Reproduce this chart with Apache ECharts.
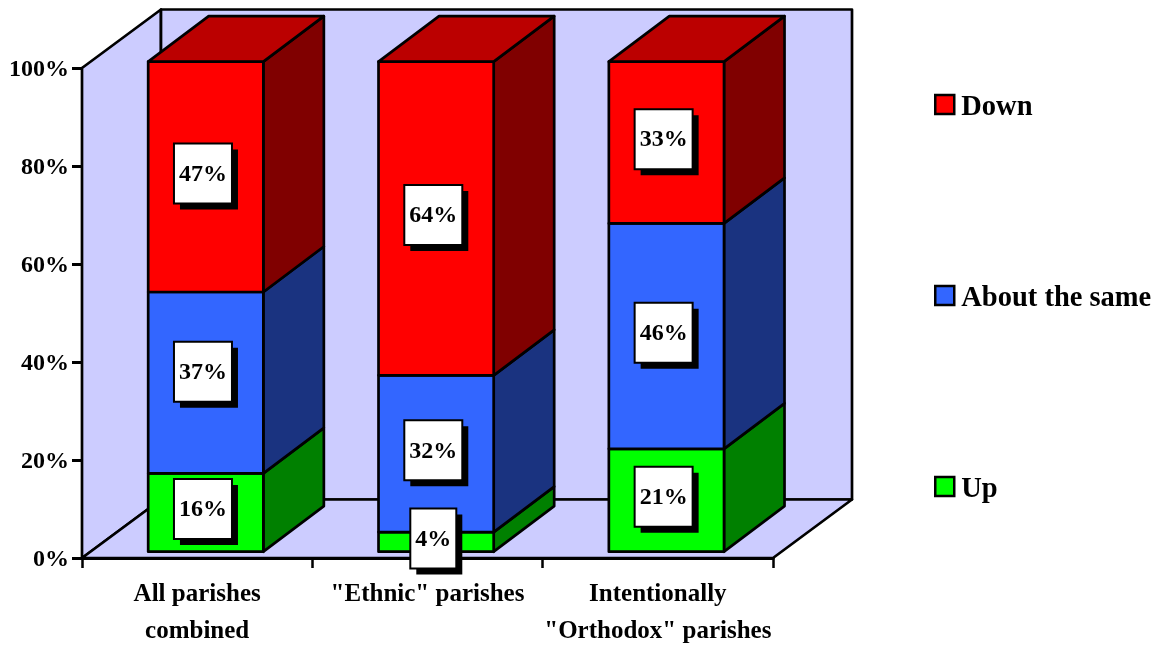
<!DOCTYPE html>
<html><head><meta charset="utf-8">
<style>html,body{margin:0;padding:0;background:#fff}#c{width:1153px;height:646px}</style>
<script src="https://cdn.jsdelivr.net/npm/echarts@6/dist/echarts.min.js"></script>
</head><body><div id="c"></div>
<script>
const categories = ['All parishes\ncombined', '"Ethnic" parishes', 'Intentionally\n"Orthodox" parishes'];
const up = [16, 4, 21];
const same = [37, 32, 46];
const down = [47, 64, 33];
const yTicks = {min: 0, max: 100, interval: 20};

const FONT = '"Liberation Serif", serif';
const INK = '#000';
const LW = 2.7;
const WALL = {dx: 79, dy: -58.5};
const BAR = {shiftX: 8.6, shiftY: -6.3, dx: 60.5, dy: -45.5, widthRatio: 0.5};
const BOX = {h: 60, shadow: 6, dx: -2.8, dy: -3.4};
// the 37% box sits higher than its segment's middle in the reference
const SAME_FIRST_NUDGE = -7.5;

function poly(pts, fill) {
  return {type: 'polygon', shape: {points: pts},
    style: {fill: fill, stroke: INK, lineWidth: LW, lineJoin: 'round'}};
}
function wallRender(params, api) {
  const c = params.coordSys;
  const x0 = c.x, x1 = c.x + c.width, y0 = c.y, y1 = c.y + c.height;
  const d = WALL;
  return {type: 'group', children: [
    poly([[x0, y0], [x0 + d.dx, y0 + d.dy], [x0 + d.dx, y1 + d.dy], [x0, y1]], '#CCCCFF'),
    poly([[x0 + d.dx, y0 + d.dy], [x1 + d.dx, y0 + d.dy], [x1 + d.dx, y1 + d.dy], [x0 + d.dx, y1 + d.dy]], '#CCCCFF'),
    poly([[x0, y1], [x0 + d.dx, y1 + d.dy], [x1 + d.dx, y1 + d.dy], [x1, y1]], '#CCCCFF')
  ]};
}
function barRender(front, side, topFace) {
  return function (params, api) {
    const i = api.value(0), s = api.value(1), e = api.value(2);
    const w = api.size([1, 0])[0] * BAR.widthRatio;
    const a = api.coord([i, s]), b = api.coord([i, e]);
    const l = a[0] + BAR.shiftX - w / 2, r = l + w;
    const yb = a[1] + BAR.shiftY, yt = b[1] + BAR.shiftY;
    const kids = [
      poly([[r, yt], [r + BAR.dx, yt + BAR.dy], [r + BAR.dx, yb + BAR.dy], [r, yb]], side),
      poly([[l, yt], [r, yt], [r, yb], [l, yb]], front)
    ];
    if (e >= 100) kids.push(poly([[l, yt], [l + BAR.dx, yt + BAR.dy], [r + BAR.dx, yt + BAR.dy], [r, yt]], topFace));
    return {type: 'group', children: kids};
  };
}
function labelRender(params, api) {
  const i = api.value(0), s = api.value(1), e = api.value(2), v = api.value(3);
  const p = api.coord([i, (s + e) / 2]);
  const txt = v + '%';
  const bw = v < 10 ? 46 : 58;
  const nudge = (i === 0 && s === up[0]) ? SAME_FIRST_NUDGE : 0;
  const cx = p[0] + BAR.shiftX + BOX.dx, cy = p[1] + BAR.shiftY + BOX.dy + nudge;
  const rx = cx - bw / 2, ry = cy - BOX.h / 2;
  return {type: 'group', children: [
    {type: 'rect', shape: {x: rx + BOX.shadow, y: ry + BOX.shadow, width: bw, height: BOX.h}, style: {fill: INK}},
    {type: 'rect', shape: {x: rx, y: ry, width: bw, height: BOX.h}, style: {fill: '#fff', stroke: INK, lineWidth: 2}},
    {type: 'text', style: {x: cx, y: cy + 1, text: txt, fill: INK, font: 'bold 24px ' + FONT, align: 'center', verticalAlign: 'middle'}}
  ]};
}
function rows(vals, base) { return vals.map((v, i) => [i, base[i], base[i] + v, v]); }
const base0 = up.map(() => 0);
const base1 = up.slice();
const base2 = up.map((v, i) => v + same[i]);
const upRows = rows(up, base0), sameRows = rows(same, base1), downRows = rows(down, base2);
const enc = {x: 0, y: [1, 2]};

const chart = echarts.init(document.getElementById('c'), null, {renderer: 'canvas'});
chart.setOption({
  animation: false,
  backgroundColor: '#fff',
  grid: {left: 82, top: 68, width: 691, height: 490, containLabel: false, outerBoundsMode: 'none'},
  xAxis: {type: 'category', data: categories,
    axisLine: {onZero: false, lineStyle: {color: INK, width: 3}},
    axisTick: {show: true, length: 10, lineStyle: {color: INK, width: 2.5}},
    axisLabel: {color: INK, fontFamily: FONT, fontWeight: 'bold', fontSize: 25, lineHeight: 37, margin: 18, interval: 0},
    splitLine: {show: false}},
  yAxis: {type: 'value', min: yTicks.min, max: yTicks.max, interval: yTicks.interval,
    axisLine: {show: true, lineStyle: {color: INK, width: 3}},
    axisTick: {show: true, length: 10, lineStyle: {color: INK, width: 3}},
    axisLabel: {color: INK, margin: 13, formatter: '{t|{value}%}',
      rich: {t: {color: INK, fontFamily: FONT, fontWeight: 'bold', fontSize: 24, padding: [3, 0, 0, 0]}}},
    splitLine: {show: false}},
  legend: {orient: 'vertical', left: 929, top: 82, itemWidth: 19, itemHeight: 19, itemGap: 156, selectedMode: false,
    formatter: '{t|{name}}',
    textStyle: {color: INK, padding: [0, 0, 0, 2],
      rich: {t: {color: INK, fontFamily: FONT, fontWeight: 'bold', fontSize: 28.5, lineHeight: 28, padding: [6, 0, 0, 0]}}},
    data: [
      {name: 'Down', icon: 'rect', itemStyle: {color: '#FF0000', borderColor: INK, borderWidth: 2.5}},
      {name: 'About the same', icon: 'rect', itemStyle: {color: '#3366FF', borderColor: INK, borderWidth: 2.5}},
      {name: 'Up', icon: 'rect', itemStyle: {color: '#00FF00', borderColor: INK, borderWidth: 2.5}}
    ]},
  tooltip: {show: false},
  series: [
    {type: 'custom', name: 'walls', z: 1, silent: true, renderItem: wallRender, data: [[0, 0]], encode: {x: 0, y: 1}, clip: false},
    {type: 'custom', name: 'Up', z: 2, itemStyle: {color: '#00FF00'}, renderItem: barRender('#00FF00', '#008000', '#00BB00'), data: upRows, encode: enc, clip: false},
    {type: 'custom', name: 'About the same', z: 3, itemStyle: {color: '#3366FF'}, renderItem: barRender('#3366FF', '#1A3380', '#2850C8'), data: sameRows, encode: enc, clip: false},
    {type: 'custom', name: 'Down', z: 4, itemStyle: {color: '#FF0000'}, renderItem: barRender('#FF0000', '#800000', '#BB0000'), data: downRows, encode: enc, clip: false},
    {type: 'custom', name: 'labels', z: 6, renderItem: labelRender, data: upRows.concat(sameRows, downRows), encode: enc, clip: false}
  ]
});
</script></body></html>
